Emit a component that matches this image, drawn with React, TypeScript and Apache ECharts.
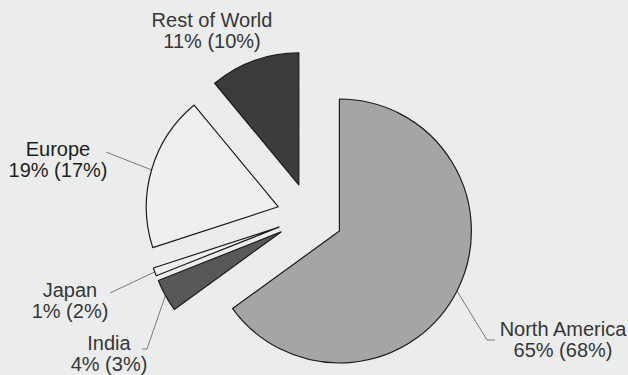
import React, { useEffect, useRef } from "react";
import * as echarts from "echarts";

// Revenue share by region (current year, prior year in brackets)
const regions = ["North America", "India", "Japan", "Europe", "Rest of World"];
const shares = [65, 4, 1, 19, 11];
const priorShares = [68, 3, 2, 17, 10];

const fills = ["#a3a6a5", "#56585a", "#eef0ef", "#eef0ef", "#3b3c3e"];
const BG = "#ebedec";

// Pie geometry (px)
const CX = 310;
const CY = 216;
const R = 132;
const OFFSET = 33;
const START = 90;

// Text block centres and guide-line bends for each label
const labelAnchors: number[][] = [
  [563, 339],
  [109, 353],
  [70, 300],
  [58, 159],
  [212, 30],
];
const lineBends: number[][][] = [
  [[487, 340], [495, 340]],
  [[147, 349], [142, 349]],
  [[110, 293]],
  [[106, 152]],
  [],
];

// Mid angle (radians, maths convention) of every slice, drawn clockwise from 12 o'clock
function midAngles(): number[] {
  const total = shares.reduce((a, b) => a + b, 0);
  let acc = 0;
  return shares.map((v) => {
    const a0 = START - (acc / total) * 360;
    acc += v;
    const a1 = START - (acc / total) * 360;
    return (((a0 + a1) / 2) * Math.PI) / 180;
  });
}

export default function App() {
  const ref = useRef<HTMLDivElement>(null);

  useEffect(() => {
    if (!ref.current) return;
    const chart = echarts.init(ref.current, null, { renderer: "svg" });
    const mids = midAngles();

    // One pie per exploded slice: every pie lays out the full data set so the
    // angles agree, but only its own slice is painted, pushed out along its mid angle.
    const series = regions.map((_, k) => {
      const dx = Math.cos(mids[k]) * OFFSET;
      const dy = -Math.sin(mids[k]) * OFFSET;
      return {
        type: "pie",
        center: [CX + dx, CY + dy],
        radius: R,
        startAngle: START,
        clockwise: true,
        avoidLabelOverlap: false,
        silent: true,
        z: k === 0 ? 2 : 3,
        label: {
          show: true,
          position: "outside",
          fontFamily: "'Liberation Sans', Arial, sans-serif",
          fontSize: 20,
          lineHeight: 21,
          color: "#363636",
          align: "center",
          formatter: (p: any) =>
            `${p.name}\n${p.value}% (${priorShares[p.dataIndex]}%)`,
        },
        labelLine: {
          show: true,
          lineStyle: { color: "#7a7a7a", width: 1 },
        },
        labelLayout: (params: any) => {
          const i = params.dataIndex;
          if (i !== k) return {};
          const out: any = {
            x: labelAnchors[i][0],
            y: labelAnchors[i][1],
            align: "center",
            verticalAlign: "middle",
          };
          if (lineBends[i].length && params.labelLinePoints) {
            out.labelLinePoints = [params.labelLinePoints[0], ...lineBends[i]];
          }
          return out;
        },
        data: regions.map((name, i) =>
          i === k
            ? {
                name,
                value: shares[i],
                itemStyle: { color: fills[i], borderColor: "#1c1c1c", borderWidth: 1.2 },
                label: i === 3 ? { color: "#1e1e1e" } : undefined,
                labelLine: { show: lineBends[i].length > 0 },
              }
            : {
                name,
                value: shares[i],
                itemStyle: { color: "transparent", borderWidth: 0 },
                label: { show: false },
                labelLine: { show: false },
              }
        ),
      };
    });

    chart.setOption({
      animation: false,
      backgroundColor: BG,
      series,
    });

    return () => chart.dispose();
  }, []);

  return (
    <div
      ref={ref}
      style={{ position: "fixed", left: 0, top: 0, width: 628, height: 375, background: BG }}
    />
  );
}
